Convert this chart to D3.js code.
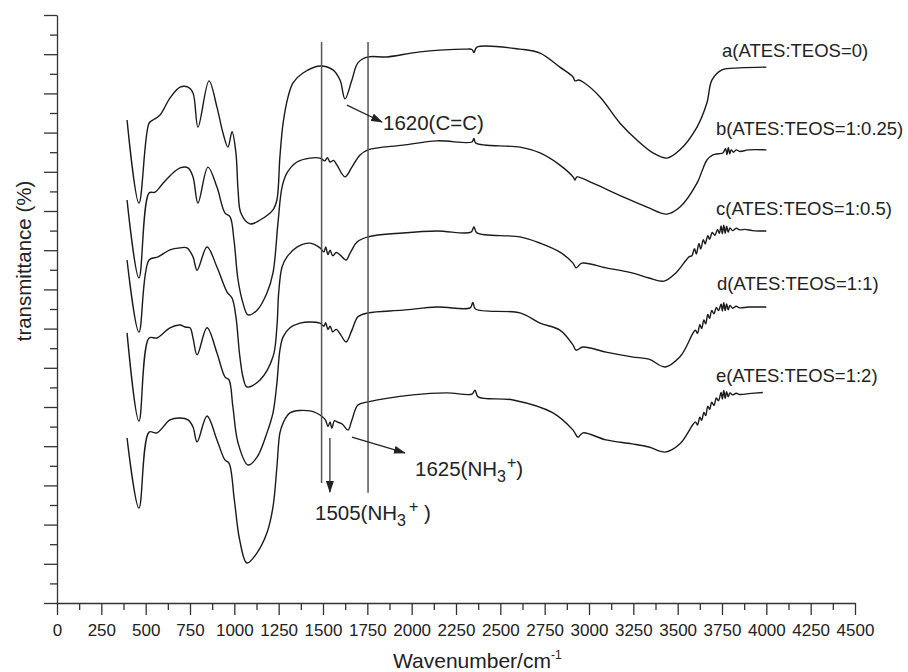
<!DOCTYPE html>
<html lang="en">
<head>
<title>FTIR spectra</title>
<meta charset="utf-8">
<script src="https://cdn.jsdelivr.net/npm/d3@7"></script>
<style type="text/css">

  body {
    margin: 0;
    background: #fff;
  }

  svg text {
    font-family: "Liberation Sans", Arial, sans-serif;
    fill: #222;
  }

  .axis path, .axis line {
    stroke: #333;
    stroke-width: 1.3;
  }

  .spectrum {
    fill: none;
    stroke: #1a1a1a;
    stroke-width: 1.4;
    stroke-linejoin: round;
  }

  .marker-line {
    stroke: #555;
    stroke-width: 1.5;
  }

  .arrow {
    stroke: #222;
    stroke-width: 1.2;
  }

</style>
</head>
<body>

<div id="vis"></div>

<script type="text/javascript">

/* Data */
/* ==== */

// [wavenumber, transmittance (offset, arbitrary units)]
var sampleA = [[395,123.2],[462,102.0],[519,122.4],[541,123.2],[581,124.5],[637,128.8],[694,131.6],[739,131.6],[767,130.1],[795,121.4],[857,133.2],[902,126.5],[936,119.9],[964,116.3],[987,120.2],[1009,114.8],[1021,105.4],[1037,99.5],[1088,96.7],[1145,97.7],[1218,100.3],[1240,102.8],[1257,113.8],[1275,122.4],[1303,129.1],[1331,132.7],[1387,135.2],[1483,137.0],[1556,136.0],[1596,133.4],[1624,128.6],[1663,133.4],[1697,137.8],[1754,139.3],[1861,139.3],[2047,140.6],[2312,141.3],[2340,141.2],[2351,140.4],[2368,141.8],[2611,141.3],[2724,140.3],[2836,136.7],[2910,134.2],[2921,133.2],[2940,133.4],[2966,132.9],[3062,129.1],[3175,122.4],[3270,118.1],[3361,114.8],[3440,113.5],[3513,115.6],[3609,121.4],[3665,127.6],[3693,133.4],[3750,136.0],[3851,136.5],[4000,136.7]];

var sampleB = [[395,102.8],[462,82.9],[519,104.6],[553,104.8],[598,107.1],[654,109.7],[694,111.0],[739,111.0],[767,108.7],[795,102.0],[851,111.2],[902,106.1],[947,99.5],[976,98.5],[998,92.6],[1021,82.4],[1049,76.5],[1077,73.5],[1128,74.7],[1184,79.1],[1218,84.2],[1246,96.9],[1269,106.1],[1297,109.7],[1353,112.5],[1427,113.5],[1483,113.5],[1510,112.8],[1525,113.6],[1540,112.5],[1560,112.9],[1579,111.7],[1624,108.7],[1663,111.2],[1709,114.3],[1754,115.6],[1951,116.8],[2143,117.9],[2340,117.6],[2351,118.5],[2362,117.3],[2611,116.3],[2724,114.8],[2836,111.7],[2910,108.7],[2921,107.9],[2932,108.7],[3022,107.1],[3192,103.6],[3327,101.0],[3440,99.2],[3513,101.0],[3609,107.1],[3640,110.5],[3665,113.0],[3699,114.3],[3730,114.6],[3755,114.8],[3770,115.9],[3778,114.4],[3786,116.2],[3794,114.6],[3802,115.6],[3815,115.0],[3830,115.6],[3850,115.2],[3900,115.6],[4000,115.6]];

var sampleC = [[395,87.5],[462,69.1],[519,87.5],[570,88.3],[637,90.1],[694,90.6],[733,90.6],[767,88.3],[790,84.9],[846,90.8],[902,85.7],[959,79.3],[987,77.8],[1009,73.0],[1030,63.3],[1050,57.4],[1071,55.1],[1145,56.9],[1218,62.8],[1240,70.4],[1250,79.1],[1269,85.7],[1297,88.3],[1353,90.8],[1427,91.8],[1483,90.6],[1505,89.6],[1515,90.8],[1528,88.9],[1540,90.0],[1555,88.6],[1575,89.4],[1596,88.8],[1630,87.5],[1650,89.0],[1663,90.1],[1692,92.1],[1754,93.4],[1951,94.4],[2143,94.9],[2334,94.6],[2351,95.9],[2368,94.4],[2611,93.4],[2724,91.8],[2836,89.5],[2910,86.7],[2927,85.5],[2960,86.7],[3096,85.5],[3242,84.2],[3338,82.9],[3423,82.1],[3490,84.2],[3564,88.3],[3580,88.6],[3595,90.4],[3605,89.0],[3620,91.7],[3630,90.3],[3645,92.7],[3655,91.6],[3670,93.7],[3680,92.8],[3695,94.5],[3710,93.8],[3725,95.3],[3735,94.3],[3745,96.2],[3752,94.2],[3760,96.4],[3768,94.3],[3776,96.1],[3785,94.6],[3795,95.7],[3810,95.0],[3830,95.6],[3850,95.2],[3880,95.3],[3920,95.0],[3960,94.9],[4000,94.9]];

var sampleD = [[395,68.9],[462,46.4],[519,67.6],[564,67.6],[637,70.2],[694,70.9],[722,70.4],[750,70.2],[767,67.6],[790,63.3],[846,70.2],[902,63.8],[947,57.7],[970,56.9],[992,50.0],[1021,40.8],[1077,35.2],[1128,37.2],[1184,43.4],[1218,48.5],[1240,56.1],[1257,64.5],[1275,67.9],[1314,70.2],[1370,71.4],[1427,71.7],[1483,71.4],[1505,70.6],[1515,71.5],[1528,69.8],[1540,70.6],[1555,69.2],[1575,69.8],[1600,68.4],[1630,66.6],[1663,69.6],[1697,73.0],[1754,74.0],[1951,74.7],[2143,75.5],[2330,75.3],[2345,76.7],[2360,75.0],[2611,74.0],[2724,71.4],[2836,69.6],[2910,65.8],[2927,64.5],[2966,65.3],[3096,64.0],[3242,62.8],[3338,62.2],[3429,60.2],[3513,62.8],[3550,65.5],[3587,68.9],[3600,69.6],[3612,68.8],[3625,71.0],[3635,70.0],[3648,72.2],[3658,71.2],[3670,73.6],[3680,72.6],[3692,74.6],[3705,73.8],[3718,75.4],[3730,74.6],[3745,76.2],[3752,74.5],[3760,76.6],[3768,74.6],[3776,76.3],[3785,74.8],[3795,75.9],[3810,75.2],[3830,75.7],[3850,75.3],[3900,75.5],[4000,75.5]];

var sampleE = [[395,42.1],[462,24.2],[519,43.6],[564,43.4],[637,46.7],[694,47.2],[739,46.7],[767,44.9],[790,41.1],[846,47.7],[902,41.6],[947,36.5],[970,35.7],[1000,26.3],[1030,16.1],[1071,10.2],[1128,12.8],[1184,17.9],[1218,24.5],[1240,34.7],[1257,43.4],[1275,45.9],[1314,48.5],[1427,49.0],[1500,47.4],[1515,46.6],[1528,45.0],[1540,46.2],[1550,44.6],[1565,46.5],[1579,46.2],[1610,45.6],[1641,44.1],[1663,46.7],[1697,50.5],[1754,51.3],[2007,53.1],[2199,53.6],[2340,53.3],[2357,54.3],[2375,52.6],[2572,51.8],[2797,48.5],[2910,44.1],[2938,42.3],[2966,43.4],[3096,41.6],[3242,40.6],[3338,39.8],[3429,38.5],[3513,40.6],[3587,45.6],[3600,46.2],[3612,45.4],[3625,47.4],[3635,46.6],[3648,48.6],[3658,47.8],[3670,50.2],[3680,49.4],[3692,51.2],[3705,50.4],[3718,52.3],[3730,51.6],[3745,53.7],[3752,52.0],[3760,54.2],[3768,52.2],[3776,53.9],[3785,52.6],[3795,53.6],[3810,53.1],[3830,53.5],[3850,53.2],[3900,53.4],[3980,53.7]];

var spectra = [sampleA, sampleB, sampleC, sampleD, sampleE];
var sampleLabels = ['a(ATES:TEOS=0)', 'b(ATES:TEOS=1:0.25)', 'c(ATES:TEOS=1:0.5)', 'd(ATES:TEOS=1:1)', 'e(ATES:TEOS=1:2)'];

// Guide lines drawn across the NH3+ / C=C region
var guideLines = [1492, 1754];

var xTicks = d3.range(0, 4501, 125);
var yTicks = d3.range(0, 151, 5);


/* Set up */
/* ====== */

var width = 908, height = 672;
var margin = { top: 15, right: 53, bottom: 69, left: 57 };

var svg = d3.select('#vis')
  .append('svg')
    .attr('width', width)
    .attr('height', height)
    .style('display', 'block');

svg.append('rect')
    .attr('width', width)
    .attr('height', height)
    .attr('fill', '#fff');

var x = d3.scaleLinear()
  .domain([0, 4500])
  .range([margin.left, width - margin.right]);

var y = d3.scaleLinear()
  .domain([0, 150])
  .range([height - margin.bottom, margin.top]);


/* Axes */
/* ==== */

var xAxis = d3.axisBottom(x)
    .tickValues(xTicks)
    .tickSize(12)
    .tickSizeOuter(0)
    .tickFormat(function(d) { return d % 250 === 0 ? d : ''; });

var xAxisDraw = svg.append('g')
    .attr('class', 'x axis')
    .attr('transform', 'translate(0,' + y(0) + ')')
    .call(xAxis);

xAxisDraw.selectAll('.tick line')
    .attr('y2', function(d) { return d % 250 === 0 ? 12 : 7; });

xAxisDraw.selectAll('.tick text')
    .attr('y', 21)
    .style('font-size', '17px');

var yAxis = d3.axisLeft(y)
    .tickValues(yTicks)
    .tickSize(13)
    .tickSizeOuter(0)
    .tickFormat('');

var yAxisDraw = svg.append('g')
    .attr('class', 'y axis')
    .attr('transform', 'translate(' + x(0) + ',0)')
    .call(yAxis);

yAxisDraw.selectAll('.tick line')
    .attr('x2', function(d) { return d % 10 === 0 ? -13 : -7; });

svg.selectAll('.domain').attr('fill', 'none');

// Axis titles
var xTitle = svg.append('text')
    .attr('x', 393)
    .attr('y', 668)
    .style('font-size', '21px');
xTitle.append('tspan').text('Wavenumber/cm');
xTitle.append('tspan')
    .attr('dy', -9)
    .style('font-size', '12px')
    .text('-1');

svg.append('text')
    .attr('transform', 'translate(31,261) rotate(-90)')
    .attr('text-anchor', 'middle')
    .style('font-size', '20.5px')
    .text('transmittance (%)');


/* Spectra */
/* ======= */

var line = d3.line()
    .x(function(d) { return x(d[0]); })
    .y(function(d) { return y(d[1]); })
    .curve(d3.curveCatmullRom.alpha(0.5));

svg.append('g').selectAll('.spectrum')
  .data(spectra).enter()
  .append('path')
    .attr('class', 'spectrum')
    .attr('d', line);

// Sample labels, placed above the flat high-wavenumber end of each curve
var labelAt = [[3750, 139.3], [3716, 119.4], [3716, 99.0], [3722, 79.8], [3716, 56.4]];

svg.append('g').selectAll('text')
  .data(sampleLabels).enter()
  .append('text')
    .attr('x', function(d, i) { return x(labelAt[i][0]); })
    .attr('y', function(d, i) { return y(labelAt[i][1]); })
    .style('font-size', '18.5px')
    .text(function(d) { return d; });


/* Annotations */
/* =========== */

svg.append('defs').append('marker')
    .attr('id', 'head')
    .attr('markerUnits', 'userSpaceOnUse')
    .attr('markerWidth', 12)
    .attr('markerHeight', 8)
    .attr('refX', 11)
    .attr('refY', 4)
    .attr('orient', 'auto')
  .append('path')
    .attr('d', 'M0,0L12,4L0,8Z')
    .attr('fill', '#222');

var guideTop = [143.1, 143.1];
var guideBottom = [30.6, 28.1];

svg.append('g').selectAll('line')
  .data(guideLines).enter()
  .append('line')
    .attr('class', 'marker-line')
    .attr('x1', function(d) { return x(d); })
    .attr('x2', function(d) { return x(d); })
    .attr('y1', function(d, i) { return y(guideTop[i]); })
    .attr('y2', function(d, i) { return y(guideBottom[i]); });

// [from, to] in data units
var arrows = [
  [[1635, 127.0], [1833, 122.7]],
  [[1663, 42.3], [1962, 38.3]],
  [[1539, 42.1], [1539, 28.3]]
];

svg.append('g').selectAll('line')
  .data(arrows).enter()
  .append('line')
    .attr('class', 'arrow')
    .attr('x1', function(d) { return x(d[0][0]); })
    .attr('y1', function(d) { return y(d[0][1]); })
    .attr('x2', function(d) { return x(d[1][0]); })
    .attr('y2', function(d) { return y(d[1][1]); })
    .attr('marker-end', 'url(#head)');

svg.append('text')
    .attr('x', 383)
    .attr('y', 130)
    .style('font-size', '20.5px')
    .text('1620(C=C)');

function nh3Label(xPos, yPos, head, tail, gap) {
  var t = svg.append('text')
      .attr('x', xPos)
      .attr('y', yPos)
      .style('font-size', '20.5px');
  t.append('tspan').text(head);
  t.append('tspan').attr('dy', 6).style('font-size', '16px').text('3');
  t.append('tspan').attr('dy', -14).attr('dx', gap).style('font-size', '16px').text('+');
  t.append('tspan').attr('dy', 8).text(tail);
  return t;
}

nh3Label(415, 476, '1625(NH', ')', 1);
nh3Label(315, 520, '1505(NH', ' )', 3);

</script>

</body>
</html>
